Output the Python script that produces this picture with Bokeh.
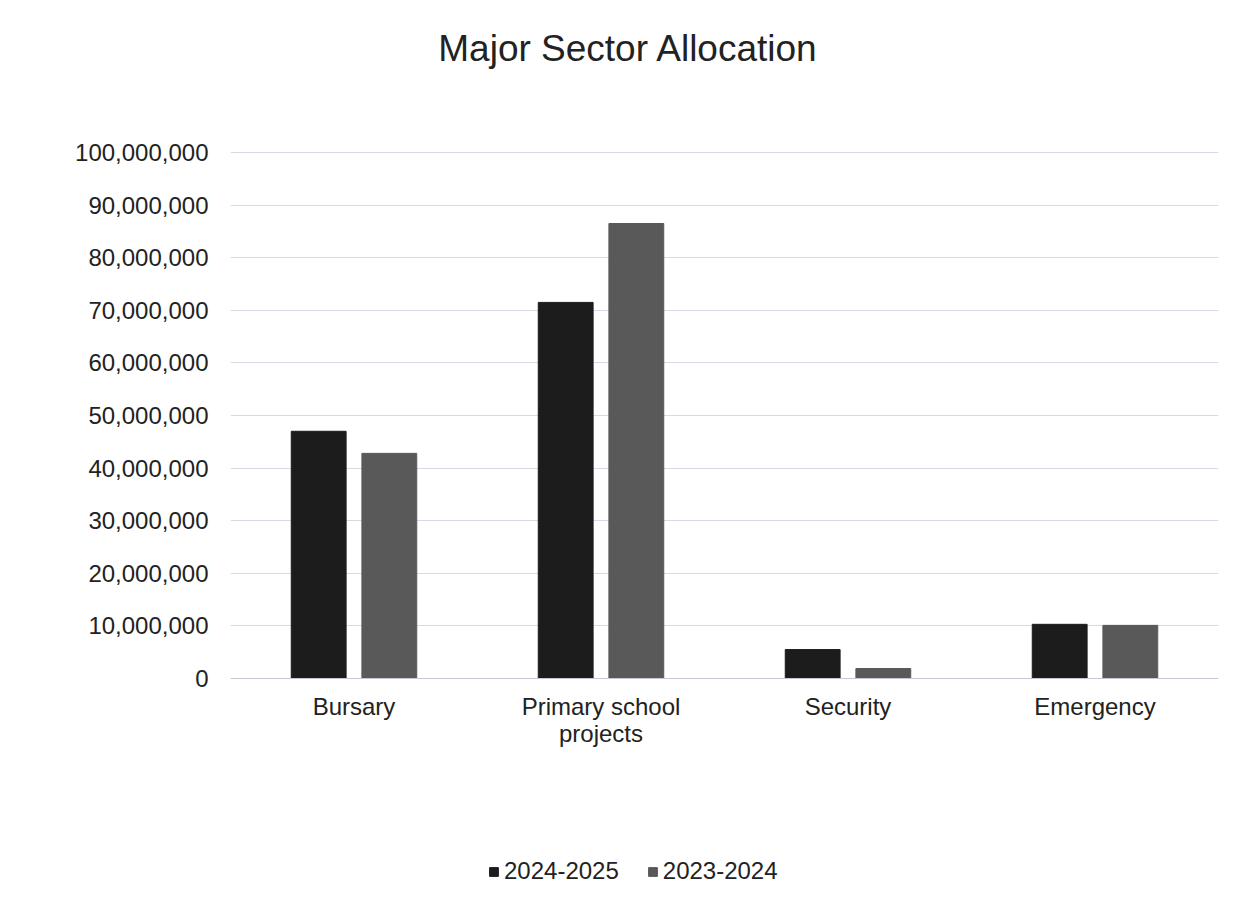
from bokeh.plotting import figure
from bokeh.models import (FactorRange, Range1d, Legend, LegendItem, NumeralTickFormatter,
                          FixedTicker, Label, ColumnDataSource)
from bokeh.transform import dodge
from bokeh.embed import file_html
from bokeh.resources import INLINE

title_text = "Major Sector Allocation"
categories = ["Bursary", "Primary school\nprojects", "Security", "Emergency"]
series_names = ["2024-2025", "2023-2024"]
values_2024_2025 = [47000000, 71500000, 5500000, 10300000]
values_2023_2024 = [42800000, 86500000, 1900000, 10100000]
y_ticks = [0, 10000000, 20000000, 30000000, 40000000, 50000000,
           60000000, 70000000, 80000000, 90000000, 100000000]

src = ColumnDataSource(dict(cat=categories, a=values_2024_2025, b=values_2023_2024))

FONT = "Liberation Sans"
W, H = 1240, 899
ZERO_Y = 678          # pixel row of the zero line
PX_PER_UNIT = 526 / 100000000

p = figure(x_range=FactorRange(*categories),
           y_range=Range1d(-(H - ZERO_Y) / PX_PER_UNIT, ZERO_Y / PX_PER_UNIT),
           width=W, height=H, output_backend="svg", toolbar_location=None,
           min_border_left=230, min_border_right=22, min_border_top=0, min_border_bottom=0)

r1 = p.vbar(x=dodge("cat", -0.143, range=p.x_range), top="a", width=0.222, source=src,
            fill_color="#1c1c1c", line_color="#1c1c1c")
r2 = p.vbar(x=dodge("cat", 0.143, range=p.x_range), top="b", width=0.222, source=src,
            fill_color="#595959", line_color="#595959")

p.outline_line_color = None
p.xgrid.grid_line_color = None
p.ygrid.ticker = FixedTicker(ticks=y_ticks)
p.ygrid.grid_line_color = "#d8d8e6"
p.ygrid.grid_line_width = 1
p.yaxis.ticker = FixedTicker(ticks=y_ticks)
p.yaxis.formatter = NumeralTickFormatter(format="0,0")
p.yaxis.axis_line_color = None
p.yaxis.major_tick_line_color = None
p.yaxis.minor_tick_line_color = None
p.yaxis.major_label_text_font = FONT
p.yaxis.major_label_text_font_size = "24px"
p.yaxis.major_label_text_color = "#222222"
p.yaxis.major_label_standoff = 16

p.xaxis.fixed_location = 0
p.xaxis.axis_line_color = "#c8c8d2"
p.xaxis.major_tick_line_color = None
p.xaxis.minor_tick_line_color = None
p.xaxis.major_label_text_font = FONT
p.xaxis.major_label_text_font_size = "24px"
p.xaxis.major_label_text_color = "#222222"
p.xaxis.major_label_text_line_height = 1.0
p.xaxis.major_label_standoff = 8

title = Label(x=628 - 230, y=H - 48, x_units="screen", y_units="screen", text=title_text,
              text_font=FONT, text_font_size="37px", text_color="#222222",
              text_align="center", text_baseline="middle")
p.add_layout(title)

legend = Legend(items=[LegendItem(label=series_names[0], renderers=[r1]),
                       LegendItem(label=series_names[1], renderers=[r2])],
                orientation="horizontal", location=(258, 14),
                label_text_font=FONT, label_text_font_size="24px", label_text_color="#222222",
                glyph_width=11, glyph_height=11, spacing=28, label_standoff=5,
                border_line_color=None, background_fill_alpha=0, margin=0, padding=0)
p.add_layout(legend, "center")

open("out.html", "w").write(file_html(p, INLINE))
